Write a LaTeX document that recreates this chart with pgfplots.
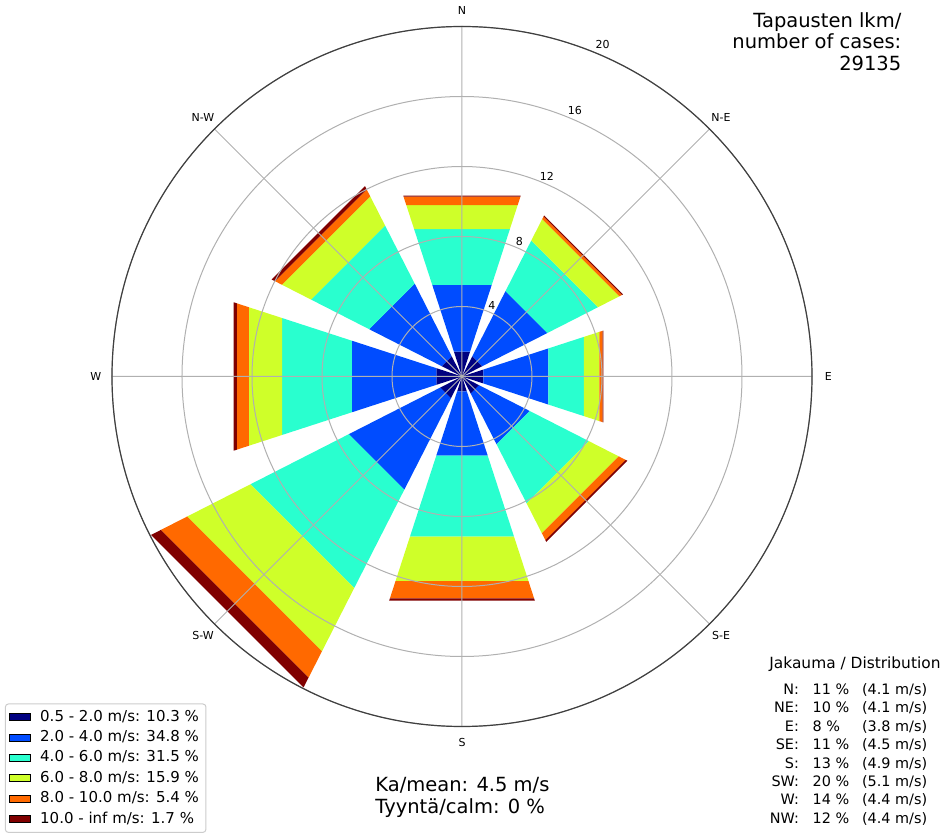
\documentclass[border=0pt]{standalone}
\usepackage{fontspec}
\setmainfont{DejaVu Sans}
\usepackage{pgfplots}
\pgfplotsset{compat=1.18}
\usepgfplotslibrary{polar}

% jet colours of the six speed classes
\definecolor{bin1}{rgb}{0,0,0.5}
\definecolor{bin2}{rgb}{0,0.3,1}
\definecolor{bin3}{rgb}{0.16,1,0.81}
\definecolor{bin4}{rgb}{0.81,1,0.16}
\definecolor{bin5}{rgb}{1,0.41,0}
\definecolor{bin6}{rgb}{0.5,0,0}
\definecolor{gridgray}{HTML}{B0B0B0}
\tikzset{lbl/.style={font=\fontsize{5.5}{6}\selectfont, inner sep=0pt}}

\begin{document}
\begin{tikzpicture}
\begin{polaraxis}[
    width=350pt, height=350pt, scale only axis,
    ymin=0, ymax=20,
    xtick={0,45,...,315}, xticklabels={},
    ytick={4,8,12,16,20}, yticklabels={},
    grid=major,
    major grid style={draw=gridgray, line width=0.5pt},
    axis line style={draw=black!75, line width=0.6pt},
    y axis line style={draw=none},
    major tick length=0pt,
    axis on top,
    clip=false,
    unbounded coords=jump,
    legend style={
        at={(-0.153,-0.152)}, anchor=south west,
        draw=black!20, line width=0.5pt, fill=white, rounded corners=1.5pt,
        font=\fontsize{7.5}{9}\selectfont,
        inner xsep=2pt, inner ysep=1.5pt,
        row sep=0pt,
        nodes={inner sep=1.5pt, text height=5.6pt, text depth=1.6pt},
        /tikz/every odd column/.append style={column sep=3pt},
    },
    legend cell align=left,
    legend image code/.code={
        \draw[#1, draw=black, line width=0.4pt, sharp corners] (0pt,-1.75pt) rectangle (10.5pt,1.75pt);
    },
]
\coordinate (O) at (axis cs:0,0);

% sectors: N 90, NE 45, E 0, SE -45, S 270, SW 225, W 180, NW 135 (+-18 deg)
\addplot[fill=bin1, draw=none] coordinates {
 (72,0) (108,0) (108,1.49) (72,1.49) (nan,nan)
 (27,0) (63,0) (63,1.30) (27,1.30) (nan,nan)
 (-18,0) (18,0) (18,1.28) (-18,1.28) (nan,nan)
 (-63,0) (-27,0) (-27,1.10) (-63,1.10) (nan,nan)
 (252,0) (288,0) (288,0.90) (252,0.90) (nan,nan)
 (207,0) (243,0) (243,1.40) (207,1.40) (nan,nan)
 (162,0) (198,0) (198,1.54) (162,1.54) (nan,nan)
 (117,0) (153,0) (153,1.30) (117,1.30)
};
\addlegendentry{0.5 - 2.0 m/s: 10.3 \%}

\addplot[fill=bin2, draw=none] coordinates {
 (72,1.49) (108,1.49) (108,5.50) (72,5.50) (nan,nan)
 (27,1.30) (63,1.30) (63,5.48) (27,5.48) (nan,nan)
 (-18,1.28) (18,1.28) (18,5.19) (-18,5.19) (nan,nan)
 (-63,1.10) (-27,1.10) (-27,4.35) (-63,4.35) (nan,nan)
 (252,0.90) (288,0.90) (288,4.76) (252,4.76) (nan,nan)
 (207,1.40) (243,1.40) (243,7.26) (207,7.26) (nan,nan)
 (162,1.54) (198,1.54) (198,6.61) (162,6.61) (nan,nan)
 (117,1.30) (153,1.30) (153,5.95) (117,5.95)
};
\addlegendentry{2.0 - 4.0 m/s: 34.8 \%}

\addplot[fill=bin3, draw=none] coordinates {
 (72,5.50) (108,5.50) (108,8.85) (72,8.85) (nan,nan)
 (27,5.48) (63,5.48) (63,8.72) (27,8.72) (nan,nan)
 (-18,5.19) (18,5.19) (18,7.33) (-18,7.33) (nan,nan)
 (-63,4.35) (-27,4.35) (-27,8.14) (-63,8.14) (nan,nan)
 (252,4.76) (288,4.76) (288,9.62) (252,9.62) (nan,nan)
 (207,7.26) (243,7.26) (243,13.57) (207,13.57) (nan,nan)
 (162,6.61) (198,6.61) (198,10.81) (162,10.81) (nan,nan)
 (117,5.95) (153,5.95) (153,9.68) (117,9.68)
};
\addlegendentry{4.0 - 6.0 m/s: 31.5 \%}

\addplot[fill=bin4, draw=none] coordinates {
 (72,8.85) (108,8.85) (108,10.30) (72,10.30) (nan,nan)
 (27,8.72) (63,8.72) (63,10.10) (27,10.10) (nan,nan)
 (-18,7.33) (18,7.33) (18,8.25) (-18,8.25) (nan,nan)
 (-63,8.14) (-27,8.14) (-27,10.05) (-63,10.05) (nan,nan)
 (252,9.62) (288,9.62) (288,12.29) (252,12.29) (nan,nan)
 (207,13.57) (243,13.57) (243,17.63) (207,17.63) (nan,nan)
 (162,10.81) (198,10.81) (198,12.80) (162,12.80) (nan,nan)
 (117,9.68) (153,9.68) (153,11.55) (117,11.55)
};
\addlegendentry{6.0 - 8.0 m/s: 15.9 \%}

\addplot[fill=bin5, draw=none] coordinates {
 (72,10.30) (108,10.30) (108,10.80) (72,10.80) (nan,nan)
 (27,10.10) (63,10.10) (63,10.27) (27,10.27) (nan,nan)
 (-18,8.25) (18,8.25) (18,8.45) (-18,8.45) (nan,nan)
 (-63,10.05) (-27,10.05) (-27,10.50) (-63,10.50) (nan,nan)
 (252,12.29) (288,12.29) (288,13.33) (252,13.33) (nan,nan)
 (207,17.63) (243,17.63) (243,19.31) (207,19.31) (nan,nan)
 (162,12.80) (198,12.80) (198,13.52) (162,13.52) (nan,nan)
 (117,11.55) (153,11.55) (153,12.00) (117,12.00)
};
\addlegendentry{8.0 - 10.0 m/s: 5.4 \%}

\addplot[fill=bin6, draw=none] coordinates {
 (72,10.80) (108,10.80) (108,10.86) (72,10.86) (nan,nan)
 (27,10.27) (63,10.27) (63,10.33) (27,10.33) (nan,nan)
 (-18,8.45) (18,8.45) (18,8.49) (-18,8.49) (nan,nan)
 (-63,10.50) (-27,10.50) (-27,10.61) (-63,10.61) (nan,nan)
 (252,13.33) (288,13.33) (288,13.47) (252,13.47) (nan,nan)
 (207,19.31) (243,19.31) (243,19.94) (207,19.94) (nan,nan)
 (162,13.52) (198,13.52) (198,13.72) (162,13.72) (nan,nan)
 (117,12.00) (153,12.00) (153,12.21) (117,12.21)
};
\addlegendentry{10.0 - inf m/s: 1.7 \%}

% direction labels
\node[lbl] at (axis cs:90,20.93) {N};
\node[lbl] at (axis cs:45,20.93) {N-E};
\node[lbl] at (axis cs:0,20.93) {E};
\node[lbl] at (axis cs:-45,20.93) {S-E};
\node[lbl] at (axis cs:270,20.93) {S};
\node[lbl] at (axis cs:225,20.93) {S-W};
\node[lbl] at (axis cs:180,20.93) {W};
\node[lbl] at (axis cs:135,20.93) {N-W};
% radial labels
\node[lbl] at (axis cs:67,4.38) {4};
\node[lbl] at (axis cs:67,8.40) {8};
\node[lbl] at (axis cs:67,12.43) {12};
\node[lbl] at (axis cs:67,16.49) {16};
\node[lbl] at (axis cs:67,20.58) {20};
\end{polaraxis}

% texts around the rose, in pixel units from the pole (y down)
\begin{scope}[shift={(O)}, x=0.5pt, y=-0.5pt]
  \begin{scope}[every node/.style={font=\fontsize{9.75}{11}\selectfont, inner sep=0pt}]
    \node[anchor=base east] at (439.7,-349) {Tapausten lkm/};
    \node[anchor=base east] at (439.7,-327.5) {number of cases:};
    \node[anchor=base east] at (439.7,-306) {29135};
    \node[anchor=base west] at (-87,415.2) {Ka/mean: 4.5 m/s};
    \node[anchor=base west] at (-87,436.8) {Tyyntä/calm: 0 \%};
  \end{scope}
  \node[anchor=base west, inner sep=0pt, font=\fontsize{7.7}{9}\selectfont] at (307,291.8) {Jakauma / Distribution};
  \begin{scope}[every node/.style={font=\fontsize{7.2}{8}\selectfont, inner sep=0pt}]
    \foreach \lab/\pct/\spd [count=\i from 0] in
      {N/11/4.1, NE/10/4.1, E/8/3.8, SE/11/4.5, S/13/4.9, SW/20/5.1, W/14/4.4, NW/12/4.4} {
      \node[anchor=base east] at (337.3,{317.8+18.43*\i}) {\lab:};
      \node[anchor=base west] at (350.3,{317.8+18.43*\i}) {\pct\ \%};
      \node[anchor=base west] at (399.7,{317.8+18.43*\i}) {(\spd\ m/s)};
    }
  \end{scope}
  \pgfresetboundingbox
  \path (-462,-376.5) rectangle (480,457.5);
\end{scope}
\end{tikzpicture}
\end{document}
